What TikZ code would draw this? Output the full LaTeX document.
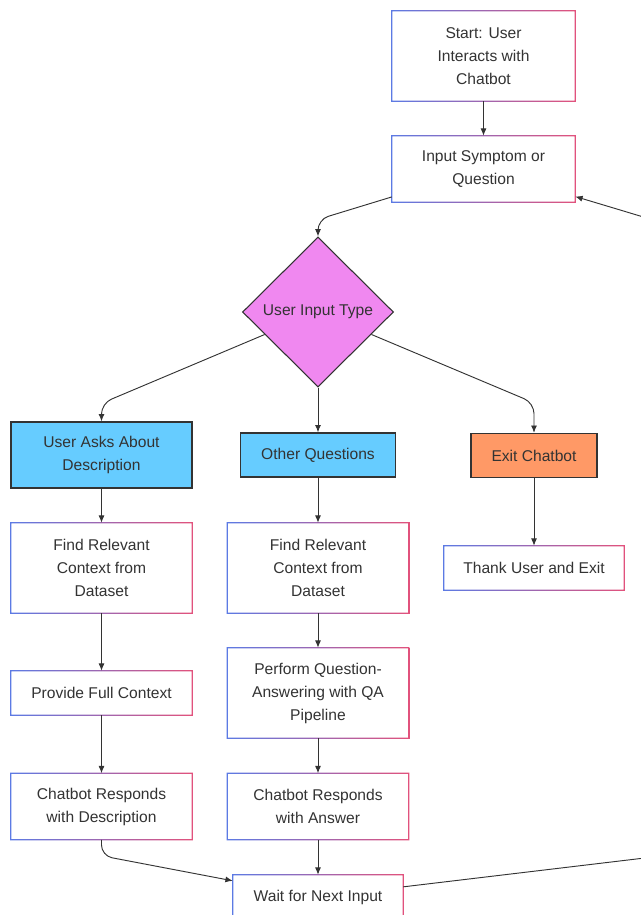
\documentclass[tikz,border=0pt]{standalone}
\usepackage{fontspec}
\setmainfont{Liberation Sans}
\usetikzlibrary{arrows.meta, shapes.geometric, positioning}
\definecolor{edgeblue}{RGB}{92,122,228}
\definecolor{edgepink}{RGB}{226,82,124}
\definecolor{inkgray}{RGB}{51,51,51}
\definecolor{decfill}{RGB}{240,136,240}
\definecolor{askfill}{RGB}{102,204,255}
\definecolor{exitfill}{RGB}{255,153,102}

\begin{document}
\begin{tikzpicture}[
    x=0.75pt, y=-0.75pt,
    font=\fontsize{11.7}{17.25}\selectfont,
    every node/.style={text=inkgray, align=center, inner sep=0pt},
    framed/.style={rectangle, fill=white},
    choice/.style={rectangle, draw=inkgray, line width=1pt},
    dec/.style={diamond, aspect=1, draw=inkgray, line width=0.8pt, fill=decfill,
                minimum width=113.25pt, minimum height=112.5pt},
    tall/.style={minimum height=67.5pt},
    mid/.style={minimum height=49.5pt},
    low/.style={minimum height=33pt},
    col/.style={minimum width=135.75pt},
    ar/.style={-{Latex[length=5.5pt, width=4.5pt]}, draw=inkgray, line width=0.7pt}
  ]
    \useasboundingbox (0,0) rectangle (641,915);

    % main column
    \node[framed, tall, minimum width=137.25pt] (start) at (483.5,56) {Start: User\\Interacts with\\Chatbot};
    \node[framed, mid, minimum width=137.25pt] (input) at (483.5,169) {Input Symptom or\\Question};
    \node[dec] (dia) at (318,312) {User Input Type};

    % three branches
    \node[choice, mid, col, fill=askfill] (uask) at (101.5,455) {User Asks About\\Description};
    \node[choice, low, minimum width=116.25pt, fill=askfill] (other) at (318,455) {Other Questions};
    \node[choice, low, minimum width=94.5pt, fill=exitfill] (exitbot) at (534,455.5) {Exit Chatbot};

    \node[framed, tall, col] (findl) at (101.5,568) {Find Relevant\\Context from\\Dataset};
    \node[framed, tall, col] (findm) at (318,568) {Find Relevant\\Context from\\Dataset};
    \node[framed, low, minimum width=135pt] (thank) at (534,568) {Thank User and Exit};

    \node[framed, low, col] (fullctx) at (101.5,693) {Provide Full Context};
    \node[framed, tall, col] (qa) at (318,693) {Perform Question-\\Answering with QA\\Pipeline};

    \node[framed, mid, col] (respl) at (101.5,806.5) {Chatbot Responds\\with Description};
    \node[framed, mid, col] (respm) at (318,806.5) {Chatbot Responds\\with Answer};

    \node[framed, low, minimum width=127.5pt] (wait) at (318,897) {Wait for Next Input};

    % blue-to-pink borders
    \foreach \n in {start,input,findl,findm,thank,fullctx,qa,respl,respm,wait}
      \shade[left color=edgeblue, right color=edgepink, even odd rule]
        ([shift={(-0.5pt,0.5pt)}]\n.north west) rectangle ([shift={(0.5pt,-0.5pt)}]\n.south east)
        ([shift={(0.5pt,-0.5pt)}]\n.north west) rectangle ([shift={(-0.5pt,0.5pt)}]\n.south east);

    % loop back, off the right edge
    \coordinate (loopa) at (720,849);
    \coordinate (loopb) at (720,240);

    \draw[ar] (start) -- (input);
    \draw[ar, rounded corners=8pt] (input) -- ([yshift=12.75pt]dia.north) -- (dia.north);
    \draw[ar, rounded corners=8pt] (dia) -- ([yshift=13.5pt]uask.north) -- (uask.north);
    \draw[ar] (dia) -- (other);
    \draw[ar, rounded corners=8pt] (dia) -- ([yshift=22.5pt]exitbot.north) -- (exitbot.north);
    \foreach \a/\b in {uask/findl, findl/fullctx, fullctx/respl,
                       other/findm, findm/qa, qa/respm, respm/wait, exitbot/thank}
      \draw[ar] (\a) -- (\b);
    \draw[ar, rounded corners=8pt] (respl) -- ([yshift=-12pt]respl.south) -- (wait);
    \draw[ar, rounded corners=20pt] (wait) -- (loopa) -- (loopb) -- (input);
\end{tikzpicture}
\end{document}
